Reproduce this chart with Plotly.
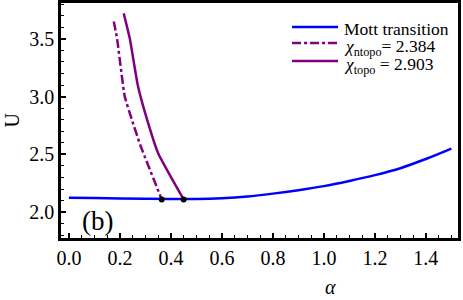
import plotly.graph_objects as go

mott_alpha = [0.0, 0.1, 0.2, 0.3, 0.4, 0.5, 0.6, 0.7, 0.8, 0.9, 1.0, 1.1, 1.2, 1.3, 1.4, 1.5]
mott_U = [2.125, 2.122, 2.118, 2.115, 2.113, 2.113, 2.12, 2.135, 2.16, 2.19, 2.225, 2.27, 2.32, 2.38, 2.46, 2.55]

ntopo_alpha = [0.176, 0.189, 0.219, 0.25, 0.28, 0.364]
ntopo_U = [3.65, 3.5, 3.0, 2.78, 2.58, 2.11]

topo_alpha = [0.215, 0.239, 0.27, 0.30, 0.35, 0.45]
topo_U = [3.72, 3.5, 3.1, 2.85, 2.51, 2.11]

dots_alpha = [0.364, 0.45]
dots_U = [2.11, 2.11]

legend_names = ["Mott transition",
                "<i>χ</i><sub>ntopo</sub>= 2.384",
                "<i>χ</i><sub>topo</sub> = 2.903"]

font = "Liberation Serif"
BLUE = "#0000FF"
PURPLE = "#800080"

fig = go.Figure()
fig.add_trace(go.Scatter(x=mott_alpha, y=mott_U, mode="lines", name=legend_names[0],
                         showlegend=False, line=dict(color=BLUE, width=2.5, shape="spline")))
fig.add_trace(go.Scatter(x=ntopo_alpha, y=ntopo_U, mode="lines", name=legend_names[1],
                         showlegend=False,
                         line=dict(color=PURPLE, width=2.5, dash="dashdot", shape="spline", smoothing=0.4)))
fig.add_trace(go.Scatter(x=topo_alpha, y=topo_U, mode="lines", name=legend_names[2],
                         showlegend=False,
                         line=dict(color=PURPLE, width=2.5, shape="spline", smoothing=0.4)))
fig.add_trace(go.Scatter(x=dots_alpha, y=dots_U, mode="markers", showlegend=False,
                         marker=dict(color="black", size=6)))

# manual legend (paper coordinates)
leg_styles = [(BLUE, "solid"), (PURPLE, "dashdot"), (PURPLE, "solid")]
leg_line_y = [0.898, 0.830, 0.753]
leg_text_y = [0.889, 0.810, 0.733]
for name, (col, dash), ly, ty in zip(legend_names, leg_styles, leg_line_y, leg_text_y):
    fig.add_shape(type="line", xref="paper", yref="paper", x0=0.582, x1=0.698, y0=ly, y1=ly,
                  line=dict(color=col, width=2.5, dash=dash))
    fig.add_annotation(xref="paper", yref="paper", x=0.708, y=ty, xanchor="left", yanchor="middle",
                       text=name, showarrow=False, font=dict(family=font, size=17.5, color="black"))

fig.add_annotation(x=0.114, y=1.925, text="(b)", showarrow=False, xref="x", yref="y",
                   font=dict(family=font, size=27, color="black"))

# axis titles
fig.add_annotation(xref="paper", yref="paper", x=0.678, y=-0.262, xanchor="center", yanchor="bottom",
                   text="<i>α</i>", showarrow=False, font=dict(family=font, size=20, color="black"))
fig.add_annotation(xref="paper", yref="paper", x=-0.155, y=0.502, xanchor="left", yanchor="middle",
                   text="U", showarrow=False, textangle=-90,
                   font=dict(family=font, size=20, color="black"))

axis_common = dict(showline=True, linecolor="black", linewidth=2.5, mirror=True,
                   ticks="inside", ticklen=5, tickwidth=1.5, tickcolor="black",
                   showgrid=False, zeroline=False, automargin=False,
                   tickfont=dict(family=font, size=20, color="black"))

fig.update_xaxes(range=[-0.031, 1.526], tick0=0, dtick=0.2, tickformat=".1f",
                 minor=dict(ticks="inside", ticklen=3, tickwidth=1, tickcolor="black", dtick=0.05),
                 **axis_common)
fig.update_yaxes(range=[1.776, 3.81], tick0=2.0, dtick=0.5, tickformat=".1f",
                 minor=dict(ticks="inside", ticklen=3, tickwidth=1, tickcolor="black", dtick=0.1),
                 **axis_common)

fig.update_layout(
    width=463, height=300,
    margin=dict(l=61, r=5, t=3, b=62),
    plot_bgcolor="white", paper_bgcolor="white",
    font=dict(family=font, color="black"),
    showlegend=False,
)

fig.write_html("out.html", config={"displayModeBar": False},
               post_script="document.body.style.margin='0';")
